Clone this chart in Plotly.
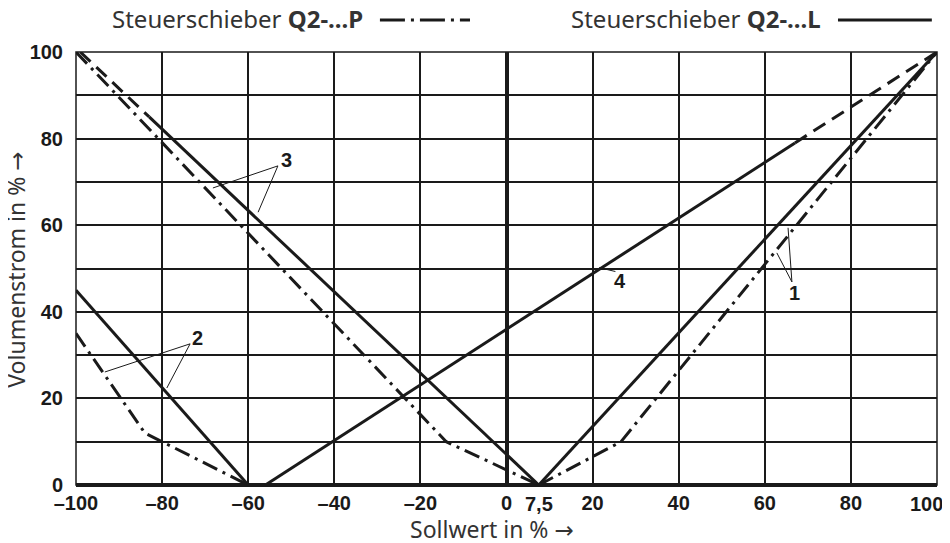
import plotly.graph_objects as go

# ---- data ----
# Steuerschieber Q2-...L (solid)
l1_x = [7.5, 100]; l1_y = [0, 100]
l2_x = [-100, -60]; l2_y = [45, 0]
l3_dash_x = [-99, -83]; l3_dash_y = [100, 85]
l3_x = [-83, 7.5]; l3_y = [85, 0]
# Steuerschieber Q2-...P (dash-dot)
p1_x = [7.5, 26.6, 100]; p1_y = [0, 10, 100]
p2_x = [-100, -84, -60]; p2_y = [35, 12, 0]
p3_x = [-100, -14, 7.5]; p3_y = [100, 10, 0]
# curve 4
c4_x = [-56, 67]; c4_y = [0, 79]
c4_dash_x = [67, 100]; c4_dash_y = [79, 100]

x_ticks = [-100, -80, -60, -40, -20, 0, 20, 40, 60, 80, 100]
x_ticktext = ["–100", "–80", "–60", "–40", "–20", "0", "20", "40", "60", "80", ""]
x_extra_labels = [(7.5, "7,5", "center", 0), (100, "100", "right", 8)]
y_ticks = [0, 10, 20, 30, 40, 50, 60, 70, 80, 90, 100]
y_ticktext = ["0", "", "20", "", "40", "", "60", "", "80", "", "100"]

# curve labels: (text, label x, label y, leader start, leader ends)
labels = [
    ("3", -51.0, 75.1, (-53.1, 73.7), [(-68.2, 68.6), (-57.7, 63.0)]),
    ("2", -71.7, 33.9, (-73.5, 32.6), [(-93.3, 26.1), (-78.9, 22.4)]),
    ("1", 67.0, 44.3, (66.3, 46.9), [(62.8, 53.6), (65.4, 59.4)]),
    ("4", 26.4, 47.0, (25.3, 49.3), [(21.5, 50.2)]),
]

INK = "#1a1a1a"
DASHDOT = "16px,6px,3px,6px"
DASHDOT_KEY = "25px,6px,3px,6px"
DASHED = "14px,8px"
LW = 3

fig = go.Figure()

def add(x, y, dash="solid"):
    fig.add_trace(go.Scatter(x=x, y=y, mode="lines", showlegend=False,
                             hoverinfo="skip",
                             line=dict(color=INK, width=LW, dash=dash)))

add(l1_x, l1_y); add(l2_x, l2_y); add(l3_x, l3_y); add(l3_dash_x, l3_dash_y, DASHED)
add(p1_x, p1_y, DASHDOT); add(p2_x, p2_y, DASHDOT); add(p3_x, p3_y, DASHDOT)
add(c4_x, c4_y); add(c4_dash_x, c4_dash_y, DASHED)

TICKFONT = dict(family="Liberation Sans Narrow, Liberation Sans, Arial Narrow, sans-serif",
                size=20, color=INK, weight="bold")
TEXTFONT = dict(family="Noto Sans, Open Sans, sans-serif", size=23, color="#333333")
HEADFONT = dict(family="Noto Sans, Open Sans, sans-serif", size=24, color="#333333")
ARROW = '<span style="font-family:DejaVu Sans">→</span>'

annotations = []
shapes = []
for txt, lx, ly, (sx, sy), ends in labels:
    annotations.append(dict(x=lx, y=ly, xref="x", yref="y", text=txt, showarrow=False,
                            xanchor="center", yanchor="middle", font=TICKFONT))
    for ex, ey in ends:
        shapes.append(dict(type="line", xref="x", yref="y", x0=sx, y0=sy, x1=ex, y1=ey,
                           line=dict(color=INK, width=1)))

# extra x tick labels
for xv, txt, anchor, shift in x_extra_labels:
    annotations.append(dict(x=xv, y=0, xref="x", yref="paper", yanchor="top", yshift=-6,
                            xanchor=anchor, xshift=shift, text=txt, showarrow=False,
                            font=TICKFONT))
# axis titles
annotations.append(dict(x=0.483, y=-0.102, xref="paper", yref="paper",
                        xanchor="center", yanchor="middle",
                        text="Sollwert in % " + ARROW, showarrow=False, font=TEXTFONT))
annotations.append(dict(x=-0.0700, y=0.4965, xref="paper", yref="paper", textangle=-90,
                        xanchor="center", yanchor="middle",
                        text="Volumenstrom in % " + ARROW, showarrow=False, font=TEXTFONT))
# legend-like header
annotations.append(dict(x=0.3357, y=1.0770, xref="paper", yref="paper", xanchor="right",
                        yanchor="middle",
                        text="Steuerschieber <b>Q2-...P</b>", showarrow=False, font=HEADFONT))
annotations.append(dict(x=0.8676, y=1.0770, xref="paper", yref="paper", xanchor="right",
                        yanchor="middle",
                        text="Steuerschieber <b>Q2-...L</b>", showarrow=False, font=HEADFONT))
shapes.append(dict(type="line", xref="paper", yref="paper", x0=0.353, x1=0.4576,
                   y0=1.074, y1=1.074, line=dict(color=INK, width=LW, dash=DASHDOT_KEY)))
shapes.append(dict(type="line", xref="paper", yref="paper", x0=0.885, x1=0.994,
                   y0=1.074, y1=1.074, line=dict(color=INK, width=LW)))
# plot border
shapes.append(dict(type="rect", xref="paper", yref="paper", x0=0, x1=1, y0=0, y1=1,
                   line=dict(color=INK, width=1.5), layer="below"))

fig.update_layout(
    width=942, height=535,
    margin=dict(l=68, r=13, t=44, b=58),
    paper_bgcolor="white", plot_bgcolor="white",
    annotations=annotations, shapes=shapes,
    xaxis=dict(range=[-100, 100], tickvals=x_ticks, ticktext=x_ticktext,
               showgrid=True, gridcolor=INK, gridwidth=1.5,
               zeroline=True, zerolinecolor=INK, zerolinewidth=3.5,
               showline=False, ticks="", tickfont=TICKFONT, ticklabelstandoff=4,
               automargin=False),
    yaxis=dict(range=[0, 100], tickvals=y_ticks, ticktext=y_ticktext,
               showgrid=True, gridcolor=INK, gridwidth=1.5,
               zeroline=True, zerolinecolor=INK, zerolinewidth=3.5,
               showline=False, ticks="", tickfont=TICKFONT, ticklabelstandoff=12,
               automargin=False),
)

fig.write_html("out.html")
